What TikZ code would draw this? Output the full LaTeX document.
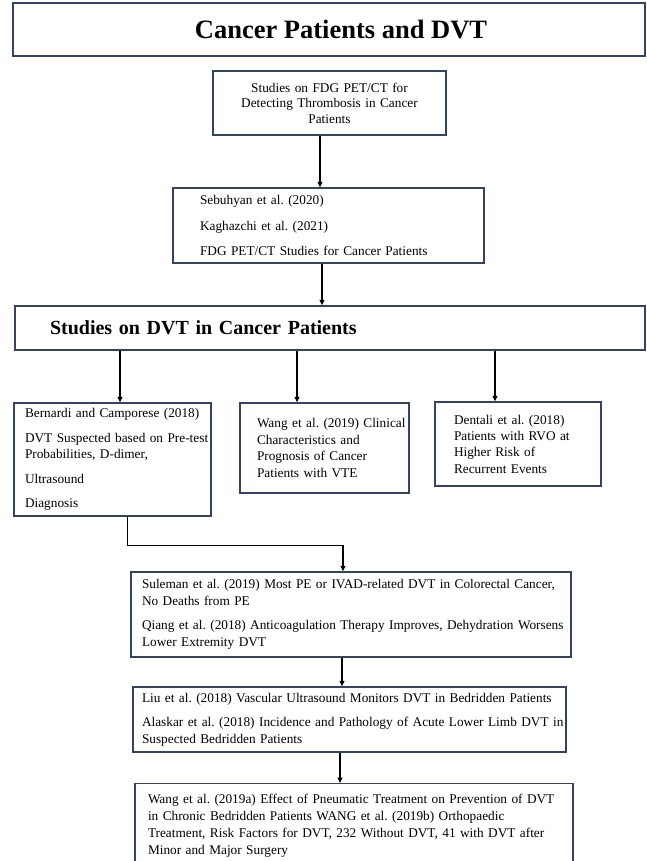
\documentclass[tikz,border=0pt]{standalone}
\usepackage{fontspec}
\setmainfont{Liberation Serif}
\usetikzlibrary{arrows.meta}
\frenchspacing
\definecolor{boxcol}{RGB}{52,66,100}
\tikzset{
  box/.style={draw=boxcol, line width=1.4pt, rectangle, inner ysep=0pt,
    font=\fontsize{13.3}{16.6}\selectfont, align=left},
  arr/.style={draw=black, line width=1.1pt, -{Triangle[length=5.5pt,width=5pt]}},
  link/.style={draw=black, line width=1.1pt}
}
\newcommand{\pg}{\\[8pt]}
\begin{document}
\frenchspacing
\begin{tikzpicture}[x=1pt,y=-1pt]
\useasboundingbox (0,0) rectangle (647,861);

% title
\node[box, minimum width=632pt, minimum height=53pt, font=\bfseries\fontsize{26.5}{30}\selectfont, align=center]
  (title) at (329,29.5) {\hspace*{24pt}Cancer Patients and DVT};

% FDG studies
\node[box, minimum width=233pt, minimum height=64pt, text width=225pt, inner xsep=4pt,
  font=\fontsize{13.3}{15.6}\selectfont, align=center]
  (b2) at (329.5,103) {Studies on FDG PET/CT for\\Detecting Thrombosis in Cancer\\Patients};

\node[box, minimum width=311pt, minimum height=75pt, text width=257pt, inner xsep=27pt]
  (b3) at (328.5,225.5) {\mbox{Sebuhyan et al. (2020)}\\[9pt]\mbox{Kaghazchi et al. (2021)}\\[9pt]\mbox{FDG PET/CT Studies for Cancer Patients}};

% DVT studies header
\node[box, minimum width=630pt, minimum height=44pt, text width=560pt, inner xsep=35pt,
  font=\bfseries\fontsize{20}{24}\selectfont]
  (b4) at (330,328) {Studies on DVT in Cancer Patients};

% three branches
\node[box, minimum width=197pt, minimum height=113pt, text width=175pt, inner xsep=11pt]
  (b5) at (112.5,459.5) {\mbox{Bernardi and Camporese (2018)}\pg
  \mbox{DVT Suspected based on Pre-test}\\\mbox{Probabilities, D-dimer,}\pg
  \mbox{Ultrasound}\pg\mbox{Diagnosis}};

\node[box, minimum width=169pt, minimum height=90pt, text width=135pt, inner xsep=17pt]
  (b6) at (324.5,448) {\mbox{Wang et al. (2019) Clinical}\\\mbox{Characteristics and}\\\mbox{Prognosis of Cancer}\\\mbox{Patients with VTE}};

\node[box, minimum width=166pt, minimum height=84pt, text width=128pt, inner xsep=19pt,
  font=\fontsize{13.3}{16.3}\selectfont]
  (b7) at (518,444) {\mbox{Dentali et al. (2018)}\\\mbox{Patients with RVO at}\\\mbox{Higher Risk of}\\\mbox{Recurrent Events}};

% lower chain
\node[box, minimum width=440pt, minimum height=85pt, text width=418pt, inner xsep=11pt]
  (b8) at (351,614.5) {\mbox{Suleman et al. (2019) Most PE or IVAD-related DVT in Colorectal Cancer,}\\
  \mbox{No Deaths from PE}\pg
  \mbox{Qiang et al. (2018) Anticoagulation Therapy Improves, Dehydration Worsens}\\
  \mbox{Lower Extremity DVT}};

\node[box, minimum width=433pt, minimum height=65pt, text width=415pt, inner xsep=9pt]
  (b9) at (349.5,719.5) {\mbox{Liu et al. (2018) Vascular Ultrasound Monitors DVT in Bedridden Patients}\pg
  \mbox{Alaskar et al. (2018) Incidence and Pathology of Acute Lower Limb DVT in}\\
  \mbox{Suspected Bedridden Patients}};

\node[box, anchor=north, minimum width=438pt, minimum height=84pt, text width=412pt, inner xsep=13pt,
  font=\fontsize{13.3}{17}\selectfont]
  (b10) at (354,783) {\mbox{Wang et al. (2019a) Effect of Pneumatic Treatment on Prevention of DVT}\\
  \mbox{in Chronic Bedridden Patients WANG et al. (2019b) Orthopaedic}\\
  \mbox{Treatment, Risk Factors for DVT, 232 Without DVT, 41 with DVT after}\\
  \mbox{Minor and Major Surgery}};

% x positions of connectors
\coordinate (xa) at (320,0);
\coordinate (xb) at (322,0);
\coordinate (xc) at (120,0);
\coordinate (xd) at (297,0);
\coordinate (xe) at (495,0);
\coordinate (xf) at (127.5,0);
\coordinate (xg) at (343,0);
\coordinate (xh) at (342,0);
\coordinate (xi) at (340,0);

\draw[arr] (b2.south -| xa) -- (b3.north -| xa);
\draw[arr] (b3.south -| xb) -- (b4.north -| xb);
\draw[arr] (b4.south -| xc) -- (b5.north -| xc);
\draw[arr] (b4.south -| xd) -- (b6.north -| xd);
\draw[arr] (b4.south -| xe) -- (b7.north -| xe);
\draw[arr] (b5.south -| xf) -- ++(0,29) -| (b8.north -| xg);
\draw[arr] (b8.south -| xh) -- (b9.north -| xh);
\draw[arr] (b9.south -| xi) -- (b10.north -| xi);
\end{tikzpicture}
\end{document}
